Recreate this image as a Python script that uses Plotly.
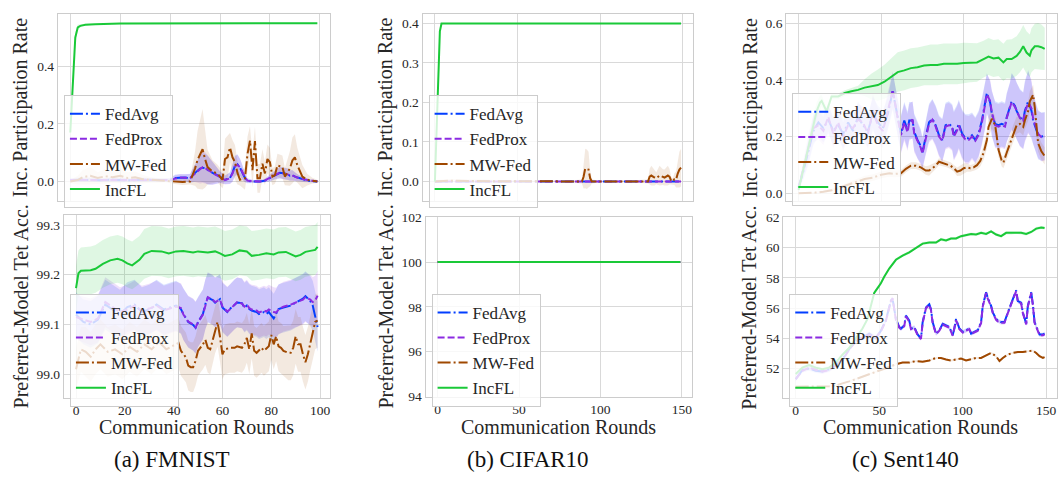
import numpy as np
import plotly.graph_objects as go

W, H = 1061, 485
FONT = "Liberation Serif, Times New Roman, serif"
NAMES = ["FedAvg", "FedProx", "MW-Fed", "IncFL"]
COLORS = ["#023eff", "#8b2be2", "#9f4800", "#1ac938"]
BAND_ALPHA = [0.15, 0.15, 0.12, 0.14]
DASHES = ["13px,3px,2px,3px", "7px,3px", "13px,3px,2px,3px", "solid"]

# ---------------- FMNIST : participation ----------------
FM_PR_AP_X = [0,4,8,12,16,20,24,28,32,36,40,42,44,46,48,50,52,53,54,55,56,57,58,60,62,64,65,66,67,68,69,70,71,73,76,78,80,82,84,86,87,88,89,90,91,92,94,96,99]
FM_PR_AVG_Y = [0.004,0.006,0.005,0.004,0.006,0.005,0.004,0.006,0.005,0.004,0.005,0.012,0.013,0.014,0.011,0.030,0.045,0.048,0.046,0.040,0.034,0.030,0.026,0.015,0.006,0.012,0.030,0.055,0.060,0.048,0.030,0.012,0.002,0.0,0.0,0.003,0.012,0.022,0.030,0.028,0.026,0.020,0.022,0.017,0.014,0.010,0.006,0.002,0.0]
FM_PR_AVG_SD = [0.006,0.008,0.008,0.006,0.008,0.008,0.006,0.008,0.006,0.006,0.006,0.012,0.012,0.012,0.015,0.03,0.045,0.05,0.05,0.05,0.045,0.04,0.035,0.02,0.015,0.02,0.03,0.035,0.035,0.03,0.025,0.015,0.008,0.005,0.005,0.006,0.012,0.015,0.02,0.02,0.02,0.018,0.018,0.015,0.012,0.01,0.008,0.005,0.004]
FM_PR_PROX_Y = [0.005,0.005,0.006,0.004,0.005,0.006,0.004,0.005,0.006,0.004,0.005,0.010,0.014,0.013,0.012,0.028,0.043,0.050,0.047,0.041,0.035,0.028,0.025,0.016,0.005,0.011,0.028,0.052,0.058,0.050,0.032,0.013,0.003,0.001,0.0,0.004,0.013,0.024,0.031,0.027,0.025,0.022,0.020,0.018,0.013,0.011,0.005,0.003,0.001]
FM_PR_PROX_SD = [0.006,0.008,0.008,0.006,0.008,0.008,0.006,0.008,0.006,0.006,0.006,0.012,0.012,0.012,0.015,0.03,0.05,0.055,0.055,0.05,0.045,0.04,0.035,0.02,0.015,0.02,0.03,0.035,0.035,0.03,0.025,0.015,0.008,0.005,0.005,0.006,0.012,0.015,0.02,0.02,0.02,0.018,0.018,0.015,0.012,0.01,0.008,0.005,0.004]
FM_PR_MW_X = [0,3,5,8,11,14,17,20,23,26,29,32,35,38,41,45,48,50,51,53,54,55,57,59,61,62,63,64,65,66,67,68,70,71,72,73,74,75,76,77,78,79,80,81,82,83,85,86,88,89,90,91,93,95,97,99]
FM_PR_MW_Y = [0.0,0.005,0.015,0.02,0.012,0.018,0.015,0.02,0.012,0.015,0.008,0.006,0.004,0.003,0.0,-0.002,0.0,0.045,0.075,0.112,0.078,0.05,0.034,0.028,0.006,0.078,0.084,0.118,0.084,0.067,0.03,0.006,0.011,0.095,0.142,0.039,0.14,0.011,0.011,0.062,0.028,0.078,0.067,0.017,0.022,0.056,0.05,0.017,0.045,0.073,0.084,0.056,0.017,0.006,0.003,0.0]
FM_PR_MW_SD = [0.005,0.015,0.025,0.03,0.02,0.025,0.02,0.025,0.02,0.02,0.015,0.01,0.008,0.006,0.008,0.01,0.01,0.06,0.1,0.14,0.1,0.06,0.04,0.03,0.03,0.07,0.075,0.05,0.06,0.06,0.04,0.02,0.04,0.06,0.05,0.06,0.05,0.05,0.05,0.05,0.04,0.05,0.05,0.03,0.03,0.04,0.04,0.03,0.06,0.08,0.08,0.06,0.04,0.02,0.01,0.005]
FM_PR_INC_X = [0,1,2,3,4,6,10,20,40,60,80,99]
FM_PR_INC_Y = [0.17,0.33,0.50,0.535,0.54,0.544,0.546,0.548,0.549,0.549,0.549,0.549]
FM_PR_INC_SD = [0.03,0.04,0.02,0.01,0.005,0.003,0.002,0.002,0.002,0.002,0.002,0.002]

# ---------------- FMNIST : preferred-model accuracy ----------------
FM_ACC_AP_X = [0,3,6,9,12,15,18,21,24,27,30,33,36,39,41,43,44,46,48,49,50,52,53,54,56,57,59,60,62,63,65,66,68,69,70,71,72,74,75,77,78,79,81,82,83,85,88,90,91,93,94,96,97,98,99]
FM_ACC_AVG_Y = [99.12,99.105,99.1,99.11,99.14,99.13,99.12,99.135,99.14,99.125,99.13,99.14,99.13,99.135,99.138,99.131,99.121,99.105,99.099,99.093,99.105,99.121,99.141,99.154,99.149,99.144,99.151,99.134,99.125,99.131,99.141,99.144,99.143,99.134,99.138,99.131,99.128,99.125,99.121,99.125,99.121,99.125,99.112,99.121,99.131,99.134,99.138,99.144,99.147,99.152,99.157,99.147,99.138,99.118,99.095]
FM_ACC_AVG_SD = [0.045,0.045,0.047,0.048,0.05,0.05,0.05,0.05,0.05,0.05,0.05,0.05,0.05,0.05,0.05,0.05,0.052,0.052,0.052,0.052,0.05,0.05,0.05,0.05,0.05,0.05,0.05,0.05,0.05,0.05,0.05,0.05,0.05,0.05,0.05,0.05,0.05,0.05,0.05,0.05,0.05,0.05,0.05,0.05,0.05,0.05,0.05,0.05,0.05,0.05,0.05,0.05,0.05,0.05,0.05]
FM_ACC_PROX_Y = [99.115,99.11,99.105,99.112,99.145,99.135,99.125,99.13,99.138,99.128,99.132,99.138,99.128,99.133,99.136,99.133,99.12,99.106,99.1,99.094,99.104,99.12,99.14,99.155,99.15,99.145,99.15,99.136,99.126,99.13,99.14,99.145,99.142,99.136,99.14,99.133,99.13,99.128,99.124,99.128,99.126,99.13,99.125,99.124,99.13,99.136,99.14,99.145,99.146,99.15,99.155,99.15,99.145,99.148,99.158]
FM_ACC_PROX_SD = [0.045,0.046,0.047,0.048,0.05,0.05,0.05,0.05,0.05,0.05,0.05,0.05,0.05,0.05,0.05,0.05,0.052,0.052,0.052,0.052,0.05,0.05,0.05,0.05,0.05,0.05,0.05,0.05,0.05,0.05,0.05,0.05,0.05,0.05,0.05,0.05,0.05,0.05,0.05,0.05,0.05,0.05,0.05,0.05,0.05,0.05,0.05,0.05,0.05,0.05,0.05,0.05,0.05,0.05,0.05]
FM_ACC_MW_X = [0,2,4,6,8,10,13,16,19,22,25,28,31,34,37,39,41,42,43,45,46,47,48,49,50,52,53,54,55,56,57,58,59,60,61,63,65,66,68,69,70,71,72,73,74,76,77,79,80,81,82,83,84,85,87,88,89,90,91,92,93,94,95,96,97,98,99]
FM_ACC_MW_Y = [99.01,99.05,99.045,99.035,99.05,99.06,99.045,99.05,99.04,99.055,99.045,99.06,99.05,99.065,99.05,99.055,99.06,99.063,99.047,99.034,99.017,99.014,99.014,99.027,99.047,99.06,99.069,99.053,99.05,99.069,99.092,99.105,99.075,99.04,99.05,99.053,99.053,99.056,99.053,99.06,99.073,99.05,99.082,99.047,99.043,99.053,99.047,99.056,99.079,99.06,99.076,99.056,99.053,99.047,99.043,99.043,99.053,99.076,99.06,99.06,99.04,99.024,99.04,99.063,99.086,99.105,99.108]
FM_ACC_MW_SD = [0.04,0.045,0.05,0.05,0.05,0.05,0.05,0.05,0.05,0.05,0.05,0.05,0.05,0.05,0.05,0.05,0.05,0.05,0.05,0.05,0.05,0.05,0.05,0.05,0.05,0.05,0.05,0.05,0.05,0.05,0.05,0.05,0.05,0.05,0.05,0.05,0.05,0.05,0.05,0.05,0.05,0.05,0.05,0.05,0.05,0.05,0.05,0.05,0.05,0.05,0.05,0.05,0.05,0.05,0.055,0.055,0.055,0.055,0.055,0.055,0.055,0.055,0.055,0.055,0.055,0.055,0.055]
FM_ACC_INC_X = [0,1,2,6,8,11,14,17,19,21,23,26,28,31,35,38,41,44,48,50,54,57,59,61,64,67,70,72,75,78,81,83,86,90,92,94,96,98,99]
FM_ACC_INC_Y = [99.173,99.203,99.208,99.209,99.212,99.222,99.229,99.232,99.229,99.223,99.219,99.23,99.242,99.248,99.247,99.243,99.247,99.248,99.245,99.247,99.245,99.247,99.243,99.238,99.241,99.249,99.247,99.238,99.24,99.243,99.241,99.245,99.246,99.237,99.24,99.246,99.248,99.25,99.256]
FM_ACC_INC_SD = [0.045,0.046,0.047,0.048,0.048,0.048,0.048,0.048,0.048,0.048,0.048,0.048,0.05,0.05,0.05,0.05,0.05,0.05,0.05,0.05,0.05,0.05,0.05,0.05,0.05,0.05,0.05,0.05,0.05,0.05,0.05,0.05,0.05,0.05,0.05,0.05,0.05,0.05,0.05]

# ---------------- CIFAR10 ----------------
CF_PR_AP_X = [0,25,50,75,100,125,149]
CF_PR_AVG_Y = [0,0,0,0,0,0,0]
CF_PR_PROX_Y = [0,0,0,0,0,0,0]
CF_PR_AP_SD = [0,0,0,0,0,0,0]
CF_PR_MW_X = [0,10,20,30,40,50,60,70,80,89,90,91,92,93,94,95,100,110,120,129,130,131,133,134,136,138,139,141,142,143,144,145,146,147,148,149]
CF_PR_MW_Y = [0,0.002,0.001,0.001,0.0,0.001,0.0,0.001,0.0,0.0,0.012,0.033,0.031,0.03,0.008,0.0,0.0,0.0,0.001,0.0,0.012,0.015,0.01,0.008,0.015,0.011,0.01,0.015,0.012,0.002,0.0,0.006,0.005,0.02,0.03,0.035]
CF_PR_MW_SD = [0.004,0.004,0.004,0.004,0.003,0.003,0.002,0.002,0.002,0.005,0.03,0.05,0.05,0.045,0.02,0.005,0.002,0.002,0.002,0.005,0.02,0.025,0.02,0.015,0.025,0.02,0.02,0.025,0.02,0.01,0.008,0.015,0.02,0.035,0.045,0.048]
CF_PR_INC_X = [0,1,2,3,4,10,50,100,149]
CF_PR_INC_Y = [0.0,0.13,0.27,0.38,0.4,0.4,0.4,0.4,0.4]
CF_PR_INC_SD = [0.0,0.03,0.03,0.01,0.0,0.0,0.0,0.0,0.0]
CF_ACC_X = [0,50,100,149]
CF_ACC_AVG_Y = [100,100,100,100]
CF_ACC_PROX_Y = [100,100,100,100]
CF_ACC_MW_Y = [100,100,100,100]
CF_ACC_INC_Y = [100,100,100,100]
CF_ACC_SD = [0,0,0,0]

# ---------------- Sent140 : participation ----------------
ST_PR_AP_X = [0,3,6,9,12,15,18,21,24,27,30,33,36,39,42,45,48,51,54,57,60,62,64,66,67,69,70,72,74,75,77,79,81,83,85,87,89,91,93,94,96,97,99,101,103,105,107,109,111,113,114,116,117,119,121,123,125,126,128,129,131,132,134,136,137,139,141,142,144,145,147,149]
ST_PR_AVG_Y = [0.02,0.08,0.15,0.22,0.25,0.23,0.26,0.22,0.24,0.21,0.25,0.22,0.27,0.24,0.22,0.28,0.25,0.23,0.28,0.36,0.27,0.211,0.257,0.223,0.257,0.257,0.217,0.188,0.166,0.143,0.2,0.251,0.263,0.24,0.205,0.188,0.24,0.245,0.234,0.205,0.228,0.245,0.211,0.194,0.194,0.205,0.188,0.211,0.257,0.314,0.354,0.32,0.28,0.245,0.24,0.245,0.24,0.268,0.303,0.325,0.308,0.291,0.268,0.257,0.291,0.325,0.291,0.257,0.223,0.205,0.2,0.202]
ST_PR_AVG_SD = [0.01,0.03,0.05,0.05,0.05,0.05,0.05,0.05,0.05,0.05,0.05,0.05,0.055,0.055,0.055,0.06,0.06,0.06,0.06,0.065,0.065,0.065,0.065,0.065,0.065,0.065,0.065,0.065,0.06,0.055,0.06,0.065,0.07,0.07,0.07,0.075,0.08,0.08,0.08,0.085,0.085,0.085,0.085,0.085,0.085,0.08,0.08,0.08,0.08,0.08,0.07,0.075,0.08,0.08,0.08,0.08,0.08,0.085,0.09,0.1,0.1,0.1,0.1,0.1,0.105,0.11,0.1,0.09,0.085,0.085,0.085,0.085]
ST_PR_PROX_Y = [0.02,0.09,0.16,0.23,0.24,0.22,0.27,0.21,0.25,0.2,0.24,0.23,0.26,0.25,0.21,0.29,0.24,0.22,0.29,0.365,0.265,0.205,0.25,0.215,0.25,0.26,0.21,0.185,0.16,0.14,0.195,0.245,0.26,0.235,0.2,0.185,0.235,0.24,0.23,0.2,0.222,0.24,0.205,0.19,0.188,0.2,0.185,0.205,0.25,0.31,0.35,0.325,0.285,0.24,0.235,0.24,0.235,0.265,0.3,0.322,0.305,0.29,0.265,0.255,0.285,0.32,0.3,0.265,0.225,0.21,0.198,0.2]
ST_PR_PROX_SD = [0.01,0.03,0.05,0.05,0.05,0.05,0.05,0.05,0.05,0.05,0.05,0.05,0.055,0.055,0.055,0.06,0.06,0.06,0.06,0.065,0.065,0.065,0.065,0.065,0.065,0.065,0.065,0.065,0.06,0.055,0.06,0.065,0.07,0.07,0.07,0.075,0.08,0.08,0.08,0.085,0.085,0.085,0.085,0.085,0.085,0.08,0.08,0.08,0.08,0.08,0.07,0.075,0.08,0.08,0.08,0.08,0.08,0.085,0.09,0.1,0.1,0.1,0.1,0.1,0.105,0.11,0.1,0.09,0.085,0.085,0.085,0.085]
ST_PR_MW_X = [0,5,10,15,20,25,30,35,40,45,50,55,58,62,65,68,71,74,77,79,81,83,85,88,90,92,94,96,98,100,102,104,106,108,110,112,114,115,117,119,120,121,123,124,126,128,130,132,134,136,137,139,140,142,143,144,145,147,149]
ST_PR_MW_Y = [0.0,0.0,0.002,0.005,0.01,0.02,0.03,0.04,0.05,0.055,0.065,0.07,0.068,0.07,0.086,0.097,0.097,0.091,0.08,0.08,0.088,0.097,0.111,0.106,0.103,0.097,0.088,0.076,0.08,0.088,0.091,0.088,0.091,0.099,0.114,0.143,0.188,0.234,0.263,0.24,0.2,0.154,0.114,0.108,0.143,0.177,0.211,0.24,0.245,0.234,0.257,0.291,0.325,0.348,0.303,0.234,0.177,0.148,0.131]
ST_PR_MW_SD = [0.002,0.002,0.003,0.004,0.005,0.006,0.008,0.01,0.012,0.012,0.012,0.012,0.012,0.012,0.012,0.012,0.012,0.012,0.015,0.018,0.015,0.012,0.012,0.012,0.012,0.012,0.012,0.015,0.018,0.018,0.015,0.012,0.012,0.015,0.02,0.025,0.03,0.035,0.035,0.03,0.03,0.025,0.02,0.02,0.025,0.03,0.03,0.03,0.03,0.03,0.03,0.035,0.035,0.035,0.035,0.035,0.03,0.03,0.03]
ST_PR_INC_X = [0,3,6,9,11,13,14,17,20,24,28,32,36,40,44,48,52,56,60,64,68,72,76,80,84,88,92,96,100,104,108,112,115,118,121,124,126,129,132,134,136,138,140,141,143,145,147,149]
ST_PR_INC_Y = [0.011,0.086,0.166,0.245,0.291,0.32,0.326,0.289,0.342,0.342,0.354,0.36,0.365,0.373,0.377,0.382,0.394,0.411,0.428,0.434,0.442,0.445,0.451,0.453,0.453,0.457,0.457,0.457,0.46,0.462,0.462,0.474,0.483,0.476,0.479,0.462,0.474,0.474,0.485,0.499,0.519,0.497,0.486,0.505,0.519,0.519,0.516,0.51]
ST_PR_INC_SD = [0.005,0.02,0.03,0.03,0.03,0.025,0.02,0.015,0.01,0.01,0.01,0.012,0.015,0.03,0.045,0.055,0.06,0.065,0.07,0.07,0.07,0.07,0.07,0.072,0.072,0.072,0.072,0.072,0.072,0.07,0.068,0.065,0.065,0.065,0.065,0.066,0.068,0.07,0.07,0.072,0.075,0.075,0.075,0.078,0.08,0.082,0.08,0.075]

# ---------------- Sent140 : preferred-model accuracy ----------------
ST_ACC_AP_X = [0,4,8,12,16,20,24,28,32,36,40,44,48,51,54,57,58,60,62,63,65,66,68,69,71,73,75,76,78,80,81,82,84,86,88,90,92,94,95,96,98,100,102,104,105,107,109,111,112,114,115,117,118,120,121,123,125,127,129,130,132,133,135,136,138,139,141,142,143,145,146,148,149]
ST_ACC_AVG_Y = [51.3,51.9,52.0,51.85,51.8,51.95,52.2,52.6,53.3,53.8,54.0,54.3,54.0,54.5,55.2,56.5,56.6,55.28,54.74,54.64,54.85,55.5,55.17,54.64,54.74,54.25,53.99,55.07,56.03,56.25,55.92,55.07,54.31,54.53,54.96,54.85,54.74,54.21,54.64,55.28,54.64,54.42,54.53,54.64,54.31,54.42,54.53,55.07,56.14,57.04,56.68,56.14,55.71,55.28,55.17,55.07,55.07,55.71,56.25,56.57,57.17,56.46,56.35,55.71,54.96,56.14,57.04,56.25,55.07,54.53,54.25,54.25,54.31]
ST_ACC_PROX_Y = [51.3,51.85,52.05,51.9,51.8,51.9,52.25,52.55,53.25,53.85,54.05,54.25,54.05,54.45,55.15,56.45,56.65,55.2,54.7,54.6,54.8,55.45,55.1,54.6,54.7,54.2,53.95,55.0,56.0,56.2,55.85,55.0,54.28,54.5,54.9,54.8,54.7,54.18,54.6,55.2,54.6,54.38,54.5,54.6,54.28,54.38,54.5,55.0,56.1,57.0,56.62,56.1,55.68,55.22,55.12,55.02,55.02,55.66,56.2,56.52,57.12,56.42,56.3,55.66,54.92,56.1,57.0,56.2,55.02,54.48,54.2,54.2,54.26]
ST_ACC_AP_SD = [0.15,0.15,0.15,0.15,0.15,0.15,0.15,0.15,0.15,0.15,0.15,0.15,0.15,0.15,0.15,0.15,0.15,0.12,0.12,0.12,0.12,0.12,0.12,0.12,0.12,0.12,0.12,0.12,0.12,0.12,0.12,0.12,0.12,0.12,0.12,0.12,0.12,0.12,0.12,0.12,0.12,0.12,0.12,0.12,0.12,0.12,0.12,0.12,0.12,0.12,0.12,0.12,0.12,0.12,0.12,0.12,0.12,0.12,0.12,0.12,0.12,0.12,0.12,0.12,0.12,0.12,0.12,0.12,0.12,0.12,0.12,0.12,0.12]
ST_ACC_MW_X = [0,5,10,15,20,24,28,32,36,40,44,48,52,56,60,64,68,72,76,80,84,87,90,93,96,99,102,105,108,111,114,117,120,122,124,127,130,133,136,139,142,144,146,148,149]
ST_ACC_MW_Y = [50.8,50.8,50.8,50.8,50.82,50.88,51.0,51.15,51.3,51.45,51.6,51.8,51.95,52.1,52.28,52.39,52.39,52.49,52.45,52.53,52.7,52.7,52.6,52.53,52.6,52.66,52.53,52.6,52.7,52.7,52.88,53.03,52.81,52.49,52.7,52.92,53.03,53.09,53.09,53.13,53.18,53.03,52.81,52.7,52.75]
ST_ACC_MW_SD = [0.06,0.06,0.06,0.06,0.06,0.06,0.06,0.06,0.06,0.06,0.06,0.06,0.06,0.06,0.06,0.06,0.06,0.06,0.06,0.06,0.06,0.06,0.06,0.06,0.06,0.06,0.06,0.06,0.06,0.06,0.06,0.06,0.06,0.06,0.06,0.06,0.06,0.06,0.06,0.06,0.06,0.06,0.06,0.06,0.06]
ST_ACC_INC_X = [0,4,8,12,16,20,24,28,32,36,40,43,45,47,49,51,53,56,60,64,68,72,76,80,84,87,90,93,96,99,102,105,108,111,114,117,120,123,126,129,132,135,138,141,144,147,149]
ST_ACC_INC_Y = [51.64,52.06,52.23,52.06,51.95,52.06,52.39,52.92,53.35,54.0,54.64,55.28,56.14,57.0,57.32,57.64,58.07,58.61,59.19,59.47,59.68,60.0,60.26,60.33,60.33,60.54,60.47,60.6,60.6,60.75,60.82,60.9,60.86,60.97,60.9,61.07,60.86,60.75,60.97,60.97,61.01,60.97,60.9,61.03,61.25,61.33,61.29]
ST_ACC_INC_SD = [0.1,0.1,0.1,0.1,0.1,0.1,0.1,0.1,0.1,0.1,0.1,0.1,0.1,0.1,0.1,0.1,0.1,0.1,0.1,0.1,0.1,0.1,0.1,0.1,0.1,0.1,0.1,0.1,0.1,0.1,0.1,0.1,0.1,0.1,0.1,0.1,0.1,0.1,0.1,0.1,0.1,0.1,0.1,0.1,0.1,0.1,0.1]

# ---------------- text ----------------
Y_TITLE_TOP = "Inc. Participation Rate"
Y_TITLE_BOTTOM = "Preferred-Model Tet Acc."
X_TITLE = "Communication Rounds"
CAPTIONS = ["(a) FMNIST", "(b) CIFAR10", "(c) Sent140"]

# series per panel: (x, y, sd) in order FedAvg, FedProx, MW-Fed, IncFL
PANEL_SERIES = [
    [(FM_PR_AP_X, FM_PR_AVG_Y, FM_PR_AVG_SD), (FM_PR_AP_X, FM_PR_PROX_Y, FM_PR_PROX_SD),
     (FM_PR_MW_X, FM_PR_MW_Y, FM_PR_MW_SD), (FM_PR_INC_X, FM_PR_INC_Y, FM_PR_INC_SD)],
    [(FM_ACC_AP_X, FM_ACC_AVG_Y, FM_ACC_AVG_SD), (FM_ACC_AP_X, FM_ACC_PROX_Y, FM_ACC_PROX_SD),
     (FM_ACC_MW_X, FM_ACC_MW_Y, FM_ACC_MW_SD), (FM_ACC_INC_X, FM_ACC_INC_Y, FM_ACC_INC_SD)],
    [(CF_PR_AP_X, CF_PR_AVG_Y, CF_PR_AP_SD), (CF_PR_AP_X, CF_PR_PROX_Y, CF_PR_AP_SD),
     (CF_PR_MW_X, CF_PR_MW_Y, CF_PR_MW_SD), (CF_PR_INC_X, CF_PR_INC_Y, CF_PR_INC_SD)],
    [(CF_ACC_X, CF_ACC_AVG_Y, CF_ACC_SD), (CF_ACC_X, CF_ACC_PROX_Y, CF_ACC_SD),
     (CF_ACC_X, CF_ACC_MW_Y, CF_ACC_SD), (CF_ACC_X, CF_ACC_INC_Y, CF_ACC_SD)],
    [(ST_PR_AP_X, ST_PR_AVG_Y, ST_PR_AVG_SD), (ST_PR_AP_X, ST_PR_PROX_Y, ST_PR_PROX_SD),
     (ST_PR_MW_X, ST_PR_MW_Y, ST_PR_MW_SD), (ST_PR_INC_X, ST_PR_INC_Y, ST_PR_INC_SD)],
    [(ST_ACC_AP_X, ST_ACC_AVG_Y, ST_ACC_AP_SD), (ST_ACC_AP_X, ST_ACC_PROX_Y, ST_ACC_AP_SD),
     (ST_ACC_MW_X, ST_ACC_MW_Y, ST_ACC_MW_SD), (ST_ACC_INC_X, ST_ACC_INC_Y, ST_ACC_INC_SD)],
]

# layout per panel (pixel boxes)
PANELS = [
    dict(box=(58, 330, 7, 200), xr=(-4.95, 103.95), yr=(-0.067, 0.582), xt=[0, 20, 40, 60, 80, 100],
         yt=[0.0, 0.2, 0.4], fmt=".1f", bottom=False, leg=(64, 91), ytx=20),
    dict(box=(64, 330, 215, 403), xr=(-4.95, 103.95), yr=(98.953, 99.3195), xt=[0, 20, 40, 60, 80, 100],
         yt=[99.0, 99.1, 99.2, 99.3], fmt=".1f", bottom=True, leg=(70, 296), ytx=21),
    dict(box=(423, 694, 7, 200), xr=(-7.45, 156.45), yr=(-0.049, 0.4245), xt=[0, 50, 100, 150],
         yt=[0.0, 0.1, 0.2, 0.3, 0.4], fmt=".1f", bottom=False, leg=(429, 91), ytx=386),
    dict(box=(426, 693, 217, 402), xr=(-7.45, 156.45), yr=(94, 102), xt=[0, 50, 100, 150],
         yt=[94, 96, 98, 100, 102], fmt="d", bottom=True, leg=(432, 296), ytx=386),
    dict(box=(787, 1058, 7, 200), xr=(-7.45, 156.45), yr=(-0.027, 0.634), xt=[0, 50, 100, 150],
         yt=[0.0, 0.2, 0.4, 0.6], fmt=".1f", bottom=False, leg=(793, 89), ytx=751),
    dict(box=(784, 1058, 217, 403), xr=(-7.45, 156.45), yr=(50.08, 62.0), xt=[0, 50, 100, 150],
         yt=[52, 54, 56, 58, 60, 62], fmt="d", bottom=True, leg=(790, 296), ytx=750),
]


def px_x(p):
    return p / W


def px_y(p):
    return 1 - p / H


def rgba(hex_color, a):
    h = hex_color.lstrip("#")
    r, g, b = int(h[0:2], 16), int(h[2:4], 16), int(h[4:6], 16)
    return f"rgba({r},{g},{b},{a})"


fig = go.Figure()
layout = dict(
    width=W, height=H, margin=dict(l=0, r=0, t=0, b=0),
    paper_bgcolor="white", plot_bgcolor="white",
    font=dict(family=FONT, color="#262626"),
    showlegend=True,
)
annotations = []

for k, (panel, series) in enumerate(zip(PANELS, PANEL_SERIES), start=1):
    xa = "x" if k == 1 else f"x{k}"
    ya = "y" if k == 1 else f"y{k}"
    leg = "legend" if k == 1 else f"legend{k}"
    # bands
    for i, (xs, ys, sd) in enumerate(series):
        x = np.array(xs, dtype=float)
        m = np.array(ys, dtype=float)
        s = np.array(sd, dtype=float)
        if not np.any(s > 0):
            continue
        fig.add_trace(go.Scatter(
            x=np.concatenate([x, x[::-1]]), y=np.concatenate([m + s, (m - s)[::-1]]),
            fill="toself", fillcolor=rgba(COLORS[i], BAND_ALPHA[i]), line=dict(width=0),
            mode="lines", hoverinfo="skip", showlegend=False, xaxis=xa, yaxis=ya))
    # lines
    for i, (xs, ys, sd) in enumerate(series):
        fig.add_trace(go.Scatter(
            x=xs, y=ys, mode="lines", name=NAMES[i],
            line=dict(color=COLORS[i], width=2, dash=DASHES[i]),
            legend=leg, showlegend=True, xaxis=xa, yaxis=ya))

    x0, x1, y0, y1 = panel["box"]
    axis_common = dict(showline=True, mirror=True, linecolor="#cccccc", linewidth=1.25,
                       showgrid=True, gridcolor="#d9d9d9", gridwidth=1, zeroline=False,
                       ticks="", tickfont=dict(family=FONT, size=13.5, color="#262626"))
    layout["xaxis" if k == 1 else f"xaxis{k}"] = dict(
        domain=[px_x(x0), px_x(x1)], range=list(panel["xr"]), anchor=ya,
        tickvals=panel["xt"], showticklabels=panel["bottom"], **axis_common)
    layout["yaxis" if k == 1 else f"yaxis{k}"] = dict(
        domain=[px_y(y1), px_y(y0)], range=list(panel["yr"]), anchor=xa,
        tickvals=panel["yt"], tickformat=panel["fmt"], **axis_common)
    lx, ly = panel["leg"]
    layout[leg] = dict(
        x=px_x(lx), y=px_y(ly), xanchor="left", yanchor="top",
        bgcolor="rgba(255,255,255,0.8)", bordercolor="#cccccc", borderwidth=1,
        font=dict(family=FONT, size=17, color="#262626"), tracegroupgap=0)
    # y title
    annotations.append(dict(
        x=px_x(panel["ytx"]), y=px_y((y0 + y1) / 2), xref="paper", yref="paper",
        text=Y_TITLE_TOP if not panel["bottom"] else Y_TITLE_BOTTOM,
        textangle=-90, showarrow=False, xanchor="center", yanchor="middle",
        font=dict(family=FONT, size=20, color="#262626")))
    if panel["bottom"]:
        annotations.append(dict(
            x=px_x((x0 + x1) / 2), y=px_y(433), xref="paper", yref="paper",
            text=X_TITLE, showarrow=False, xanchor="center", yanchor="middle",
            font=dict(family=FONT, size=20, color="#262626")))

for cx, cap in zip([172, 528, 906], CAPTIONS):
    annotations.append(dict(
        x=px_x(cx), y=px_y(467), xref="paper", yref="paper", text=cap,
        showarrow=False, xanchor="center", yanchor="middle",
        font=dict(family=FONT, size=23, color="#111111")))

layout["annotations"] = annotations
fig.update_layout(**layout)
fig.write_html(
    "out.html",
    config={"displayModeBar": False},
    post_script="document.body.style.margin='0';document.body.style.padding='0';",
)
